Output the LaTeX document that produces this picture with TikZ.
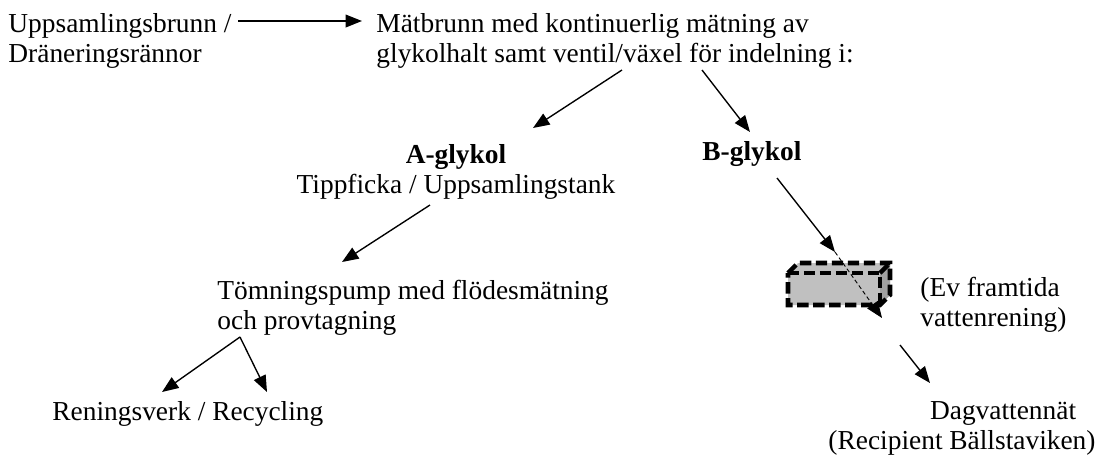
\documentclass[tikz,border=0pt]{standalone}
\usepackage{fontspec}
\setmainfont{Liberation Serif}
\usepackage{xcolor}
\usetikzlibrary{arrows.meta}

\definecolor{boxgray}{RGB}{192,192,192}
\definecolor{sidegray}{RGB}{160,160,160}

\begin{document}
\begin{tikzpicture}[x=0.438pt,y=-0.438pt,
    txt/.style={inner sep=0pt,font=\fontsize{12}{12.9}\selectfont},
    pil/.style={line width=0.6pt,-{Triangle[length=7.2pt,width=5.6pt]}},
    streckpil/.style={line width=0.4pt,dash pattern=on 1.8pt off 1.2pt,-{Triangle[length=7.2pt,width=5.6pt]}},
    kant/.style={line width=2pt,dash pattern=on 5pt off 2pt}]
    \useasboundingbox (0,0) rectangle (1099,455);
    % texter (base = sista raden)
    \node[txt,anchor=base west,align=left] (brunn) at (8,62) {Uppsamlingsbrunn /\\Dräneringsrännor};
    \node[txt,anchor=base west,align=left] (matbrunn) at (376,62) {Mätbrunn med kontinuerlig mätning av\\glykolhalt samt ventil/växel för indelning i:};
    \node[txt,anchor=base,align=center] (aglykol) at (456,193) {\textbf{A-glykol}\\Tippficka / Uppsamlingstank};
    \node[txt,anchor=base west] (bglykol) at (702,160) {\textbf{B-glykol}};
    \node[txt,anchor=base west,align=left] (pump) at (217,329) {Tömningspump med flödesmätning\\och provtagning};
    \node[txt,anchor=base west] (rening) at (52,420) {Reningsverk / Recycling};
    \node[txt,anchor=base west,align=left] (ev) at (920,326) {(Ev framtida\\vattenrening)};
    \node[txt,anchor=base,align=center] (dag) at (962,449) {\hspace*{36pt}Dagvattennät\\(Recipient Bällstaviken)};
    % kub (framtida rening)
    \fill[boxgray] (788,273) -- (798,263) -- (890,263) -- (890,295) -- (880,305) -- (788,305) -- cycle;
    \fill[sidegray] (880,273) -- (890,263) -- (890,295) -- (880,305) -- cycle;
    \draw[kant] (788,273) -- (798,263) -- (890,263) -- (890,295) -- (880,305) -- (788,305) -- cycle;
    \draw[kant] (788,273) -- (880,273) -- (880,305);
    \draw[kant] (880,273) -- (890,263);
    % punkter for pilar
    \coordinate (brunn-ut) at (238,21);
    \coordinate (matbrunn-in) at (362,21);
    \coordinate (matbrunn-a) at (622,70);
    \coordinate (matbrunn-b) at (702,70);
    \coordinate (aglykol-in) at (533,128);
    \coordinate (bglykol-in) at (750,132);
    \coordinate (aglykol-ut) at (430,205);
    \coordinate (pump-in) at (342,262);
    \coordinate (bglykol-ut) at (777,178);
    \coordinate (kub-in) at (835,252);
    \coordinate (kub-ut) at (882,318);
    \coordinate (pump-ut) at (240,337);
    \coordinate (rening-in) at (162,392);
    \coordinate (recycling-in) at (267,392);
    \coordinate (ev-ut) at (900,345);
    \coordinate (dag-in) at (930,383);
    % pilar
    \draw[pil] (brunn-ut) -- (matbrunn-in);
    \draw[pil] (matbrunn-a) -- (aglykol-in);
    \draw[pil] (matbrunn-b) -- (bglykol-in);
    \draw[pil] (aglykol-ut) -- (pump-in);
    \draw[pil] (bglykol-ut) -- (kub-in);
    \draw[streckpil] (kub-in) -- (kub-ut);
    \draw[pil] (pump-ut) -- (rening-in);
    \draw[pil] (pump-ut) -- (recycling-in);
    \draw[pil] (ev-ut) -- (dag-in);
\end{tikzpicture}
\end{document}
